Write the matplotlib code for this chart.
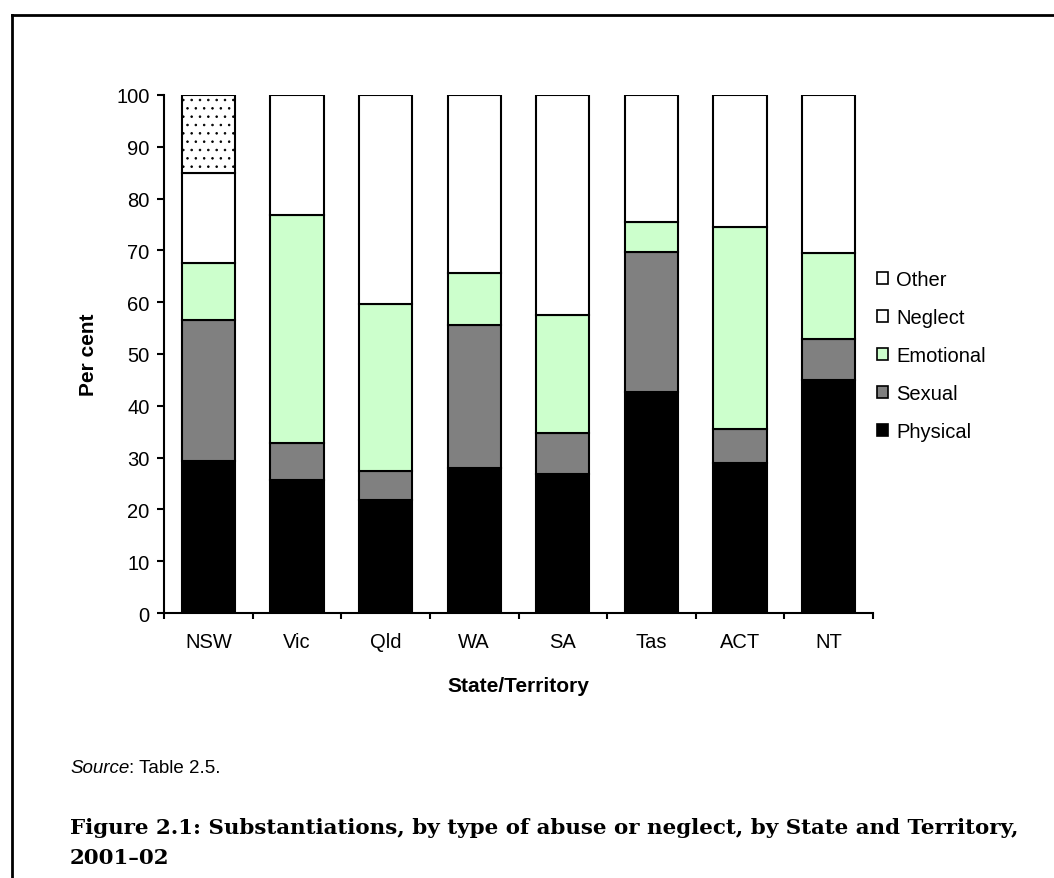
"""Substantiations by type of abuse or neglect, by State and Territory, 2001-02."""

import matplotlib

matplotlib.use("Agg")
import matplotlib.pyplot as plt
import numpy as np
from matplotlib.lines import Line2D
from matplotlib.patches import Patch

plt.rcParams["font.family"] = ["Liberation Sans", "DejaVu Sans"]
plt.rcParams["hatch.linewidth"] = 0.6
plt.rcParams["hatch.color"] = "#444444"

W, H = 1054, 879

states = ["NSW", "Vic", "Qld", "WA", "SA", "Tas", "ACT", "NT"]
physical = [29.4, 25.6, 21.9, 27.9, 26.8, 42.6, 29.0, 44.9]
sexual = [27.1, 7.3, 5.5, 27.7, 8.0, 27.0, 6.6, 8.0]
emotional = [11.1, 44.0, 32.2, 10.1, 22.8, 5.8, 39.0, 16.6]
neglect = [17.4, 23.1, 40.4, 34.3, 42.4, 24.6, 25.4, 30.5]
other = [15.0, 0.0, 0.0, 0.0, 0.0, 0.0, 0.0, 0.0]

series = [
    ("Physical", physical, "black", None),
    ("Sexual", sexual, "#808080", None),
    ("Emotional", emotional, "#ccffcc", None),
    ("Neglect", neglect, "white", None),
    ("Other", other, "white", ".."),
]

fig = plt.figure(figsize=(W / 100, H / 100), dpi=100)
# plot area in pixels: x 164..873, y 96..614
ax = fig.add_axes([164.2 / W, 1 - 614 / H, 708.6 / W, 518 / H])

x = np.arange(len(states))
bottom = np.zeros(len(states))
for name, vals, color, hatch in series:
    vals = np.array(vals)
    mask = vals > 0
    ax.bar(x[mask], vals[mask], bottom=bottom[mask], width=0.6,
           color=color, edgecolor="black", linewidth=1.5, hatch=hatch)
    bottom += vals

ax.set_xlim(-0.5, len(states) - 0.5)
ax.set_ylim(0, 100)
ax.set_yticks(range(0, 101, 10))
ax.tick_params(axis="y", direction="out", length=5, width=1.5,
               labelsize=14.5, pad=5.5)

# category boundaries carry the tick marks, the labels sit between them
ax.set_xticks(np.arange(-0.5, len(states), 1.0))
ax.set_xticklabels([])
ax.set_xticks(x, minor=True)
ax.set_xticklabels(states, minor=True)
ax.tick_params(axis="x", which="major", direction="out", length=4.5, width=1.5)
ax.tick_params(axis="x", which="minor", length=0, labelsize=14.5, pad=14)

for side in ("top", "right"):
    ax.spines[side].set_visible(False)
for side in ("left", "bottom"):
    ax.spines[side].set_linewidth(1.5)

ax.set_ylabel("Per cent", fontsize=15, fontweight="bold")
ax.yaxis.set_label_coords(-0.0934, 0.5)
ax.set_xlabel("State/Territory", fontsize=15, fontweight="bold")
ax.xaxis.set_label_coords(0.5, -0.122)

# legend, top entry first
handles = [Patch(facecolor=c, edgecolor="black", linewidth=1.2, label=n)
           for n, _, c, _ in reversed(series)]
ax.legend(handles=handles, loc="center left", bbox_to_anchor=(1.006, 0.497),
          frameon=False, fontsize=14.5, handlelength=0.55, handleheight=0.55,
          handletextpad=0.4, labelspacing=0.95, borderaxespad=0, borderpad=0)

src = fig.text(70 / W, 1 - 773 / H, "Source", fontsize=13.5, style="italic",
               va="baseline", ha="left")
rest = fig.text(0, 1 - 773 / H, ": Table 2.5.", fontsize=13.5,
                va="baseline", ha="left")
# place the plain part right after the italic word
fig.canvas.draw()
bb = src.get_window_extent()
rest.set_position((bb.x1 / W, 1 - 773 / H))

title_kw = dict(fontsize=15.4, fontweight="bold", family="DejaVu Serif",
                va="baseline", ha="left")
fig.text(70 / W, 1 - 834 / H,
         "Figure 2.1: Substantiations, by type of abuse or neglect, by State and Territory,",
         **title_kw)
fig.text(70 / W, 1 - 864 / H, "2001\u201302", **title_kw)

# page frame: left and top rules
fig.add_artist(Line2D([12 / W, 12 / W], [0, 1 - 16 / H],
                      color="black", linewidth=2, transform=fig.transFigure))
fig.add_artist(Line2D([12 / W, 1], [1 - 16 / H, 1 - 16 / H],
                      color="black", linewidth=2, transform=fig.transFigure))

fig.savefig("out.png", dpi=100)
